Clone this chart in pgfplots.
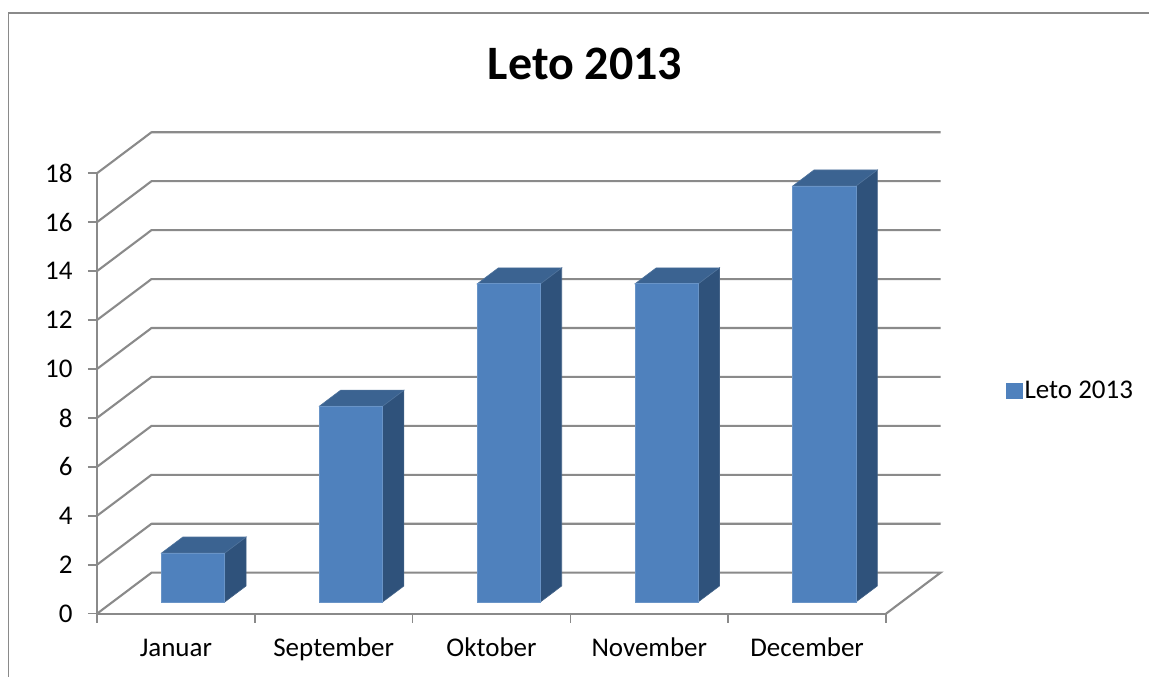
\documentclass[border=0pt]{standalone}
\usepackage{fontspec}
\setmainfont{Carlito}
\usepackage{pgfplots}
\pgfplotsset{compat=1.18}

\definecolor{gridgray}{HTML}{8A8A8A}
\definecolor{barfront}{HTML}{4F81BD}
\definecolor{bartop}{HTML}{3B6391}
\definecolor{barside}{HTML}{2F527B}

% Depth offsets of the wall and of a column, in axis units
\newcommand{\wallx}{0.3454}
\newcommand{\wally}{1.6755}

% Wall gridline of the value #1: up the side wall, then along the back wall
\newcommand{\wallline}[1]{%
  \pgfmathsetmacro\wy{#1+\wally}%
  \edef\tmp{\noexpand\addplot[gridgray,line width=2.1pt,forget plot,line join=round]
    coordinates {(0,#1) (\wallx,\wy) (5.3454,\wy)};}\tmp}

% Column #1 (0-based) of height #2: side face, top face, front face
\newcommand{\column}[2]{%
  \pgfmathsetmacro\xa{#1+0.4090}%
  \pgfmathsetmacro\xb{#1+0.8100}%
  \pgfmathsetmacro\xc{#1+0.9450}%
  \pgfmathsetmacro\xd{#1+0.5440}%
  \pgfmathsetmacro\yt{#2+0.48}%
  \pgfmathsetmacro\ytb{#2+0.48+0.654}%
  \edef\tmp{\noexpand\addplot[fill=barside,draw=barside!90!white,line width=0.6pt,forget plot]
      coordinates {(\xb,0.48) (\xc,1.134) (\xc,\ytb) (\xb,\yt)} --cycle;
    \noexpand\addplot[fill=bartop,draw=bartop!90!white,line width=0.6pt,forget plot]
      coordinates {(\xa,\yt) (\xd,\ytb) (\xc,\ytb) (\xb,\yt)} --cycle;
    \noexpand\addplot[fill=barfront,draw=barfront!85!white,line width=0.8pt,forget plot]
      coordinates {(\xa,0.48) (\xa,\yt) (\xb,\yt) (\xb,0.48)} --cycle;}\tmp}

\begin{document}
\begin{tikzpicture}[x=1pt,y=1pt]
\useasboundingbox (0,0) rectangle (1149,677);
\fill[white] (0,0) rectangle (1149,677);
% Outer chart frame
\draw[gridgray,line width=1.8pt] (8.5,0) -- (8.5,664) -- (1149,664);
\node[font=\fontsize{48}{56}\selectfont\bfseries] at (585,613) {Leto 2013};

\begin{axis}[
  at={(97pt,63.3pt)}, anchor=origin,
  x=157.8pt, y=24.47pt,
  scale only axis,
  xmin=0, xmax=5, ymin=0, ymax=18,
  axis x line*=bottom, axis y line*=left,
  axis line style={gridgray,line width=2.1pt,-},
  clip=false,
  xtick={0.5,1.5,2.5,3.5,4.5},
  xticklabels={Januar,September,Oktober,November,December},
  minor xtick={0,1,2,3,4,5},
  ytick={0,2,4,6,8,10,12,14,16,18},
  tick align=outside,
  major tick length=9pt,
  minor tick length=9pt,
  xtick style={draw=none},
  minor x tick style={draw=gridgray,line width=1.6pt},
  ytick style={draw=gridgray,line width=1.6pt},
  every x tick label/.append style={yshift=-12pt,text height=18pt,text depth=6pt},
  every y tick label/.append style={xshift=-12pt},
  tick label style={font=\fontsize{27}{32}\selectfont,text=black},
  /pgf/number format/assume math mode=true,
  legend style={at={(axis cs:5.76,9.13)},anchor=west,draw=none,fill=none,
    font=\fontsize{27}{32}\selectfont,inner sep=0pt,
    legend cell align=left,/tikz/every even column/.style={column sep=7pt}},
]
  % Floor outline
  \addplot[gridgray,line width=2.1pt,forget plot]
    coordinates {(0,0) (0.3454,1.6755) (5.3454,1.6755) (5,0)};
  \wallline{2}\wallline{4}\wallline{6}\wallline{8}\wallline{10}
  \wallline{12}\wallline{14}\wallline{16}\wallline{18}

  \column{0}{2}
  \column{1}{8}
  \column{2}{13}
  \column{3}{13}
  \column{4}{17}

  \addlegendimage{legend image code/.code={\fill[barfront] (0,-7.5pt) rectangle (16pt,7.5pt);}}
  \addlegendentry{Leto 2013}
\end{axis}
\end{tikzpicture}
\end{document}
